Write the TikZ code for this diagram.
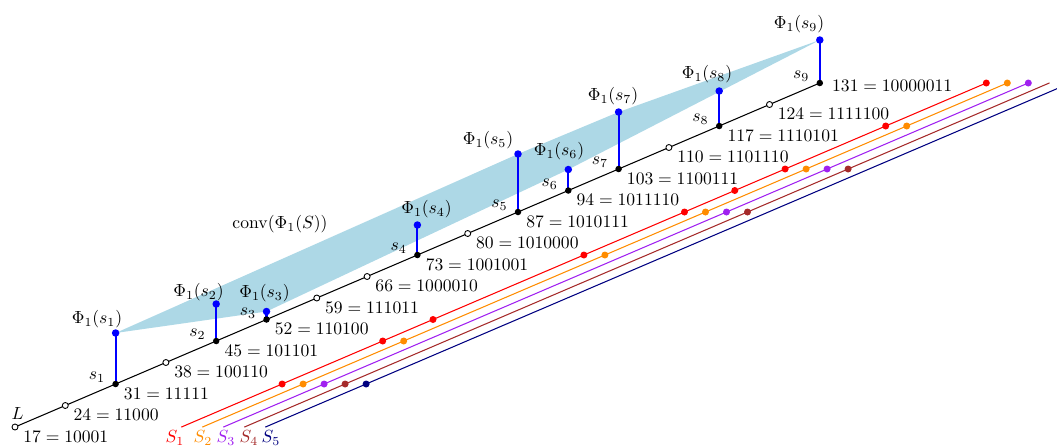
\documentclass[tikz,border=0pt]{standalone}
\usetikzlibrary{calc}
\definecolor{hullblue}{RGB}{173,216,230}
\definecolor{sorange}{RGB}{255,140,0}
\definecolor{sviolet}{RGB}{160,32,240}
\definecolor{sbrown}{RGB}{165,42,42}
\definecolor{snavy}{RGB}{0,0,128}
\begin{document}
\begin{tikzpicture}[line cap=round,line join=round]
  \clip (0,0) rectangle (21.14,8.94);
  % 直线 L 上的格点
  \foreach \i in {0,...,16}
    \coordinate (p\i) at ($(0.30,0.40)+\i*(1.006,0.43)$);
  \foreach \k/\i/\h in {1/2/1.02,2/4/0.74,3/5/0.16,4/8/0.60,5/10/1.16,6/11/0.42,7/12/1.14,8/14/0.70,9/16/0.86}{
    \coordinate (s\k) at (p\i);
    \coordinate (f\k) at ($(p\i)+(0,\h)$);
  }
  % 凸包
  \fill[hullblue] (f1) -- (f3) -- (f6) -- (f9) -- (f7) -- (f5) -- cycle;
  \node (conv) at (5.60,4.46) {$\mathrm{conv}(\Phi_1(S))$};
  % 直线 L
  \draw[line width=0.6pt] (p0) -- (p16);
  \node (L) at (0.35,0.68) {$L$};
  \foreach \i in {0,1,3,6,7,9,13,15}
    \filldraw[line width=0.5pt,fill=white] (p\i) circle (0.06);
  \foreach \i/\a/\b in {0/17/10001,1/24/11000,2/31/11111,3/38/100110,4/45/101101,5/52/110100,6/59/111011,7/66/1000010,8/73/1001001,9/80/1010000,10/87/1010111,11/94/1011110,12/103/1100111,13/110/1101110,14/117/1110101,15/124/1111100}
    \node[anchor=north west,inner sep=2pt] (v\i) at ($(p\i)+(0.09,0)$) {$\a=\b$};
  \node[anchor=west,inner sep=2pt] (v16) at ($(p16)+(0.17,-0.06)$) {$131=10000011$};
  % 点 s_k 及其提升 Phi_1(s_k)
  \foreach \k in {1,...,9}{
    \draw[blue,line width=1.2pt] (s\k) -- (f\k);
    \fill (s\k) circle (0.065);
    \fill[blue] (f\k) circle (0.075);
    \node[anchor=east,inner sep=1pt] (t\k) at ($(s\k)+(-0.17,0.13)$) {$s_{\k}$};
  }
  \node (l1) at (1.94,2.56) {$\Phi_1(s_1)$};
  \node (l2) at (3.97,3.10) {$\Phi_1(s_2)$};
  \node (l3) at (5.29,3.08) {$\Phi_1(s_3)$};
  \node (l4) at (8.53,4.76) {$\Phi_1(s_4)$};
  \node (l5) at (9.76,6.14) {$\Phi_1(s_5)$};
  \node (l6) at (11.18,5.92) {$\Phi_1(s_6)$};
  \node (l7) at (12.26,7.02) {$\Phi_1(s_7)$};
  \node (l8) at (14.14,7.46) {$\Phi_1(s_8)$};
  \node (l9) at (15.98,8.46) {$\Phi_1(s_9)$};
  % 平行直线 S_1,...,S_5
  \foreach \k/\c/\d in {1/red/3.33,2/sorange/3.75,3/sviolet/4.17,4/sbrown/4.59,5/snavy/5.01}{
    \coordinate (a\k) at ($(p0)+(\d,0)$);
    \coordinate (b\k) at ($(p16)+(\d,0)$);
    \draw[\c,line width=0.6pt] (a\k) -- (b\k);
  }
  \foreach \i in {2,4,5,8,10,11,12,14,16} \fill[red] ($(p\i)+(3.33,0)$) circle (0.07);
  \foreach \i in {2,4,8,10,12,14,16} \fill[sorange] ($(p\i)+(3.75,0)$) circle (0.07);
  \foreach \i in {2,10,12,16} \fill[sviolet] ($(p\i)+(4.17,0)$) circle (0.07);
  \foreach \i in {2,10,12} \fill[sbrown] ($(p\i)+(4.59,0)$) circle (0.07);
  \foreach \i in {2} \fill[snavy] ($(p\i)+(5.01,0)$) circle (0.07);
  \node[anchor=base,red] (S1) at (3.50,0.09) {$S_1$};
  \node[anchor=base,sorange] (S2) at (4.06,0.09) {$S_2$};
  \node[anchor=base,sviolet] (S3) at (4.52,0.09) {$S_3$};
  \node[anchor=base,sbrown] (S4) at (4.98,0.09) {$S_4$};
  \node[anchor=base,snavy] (S5) at (5.42,0.09) {$S_5$};
\end{tikzpicture}
\end{document}
